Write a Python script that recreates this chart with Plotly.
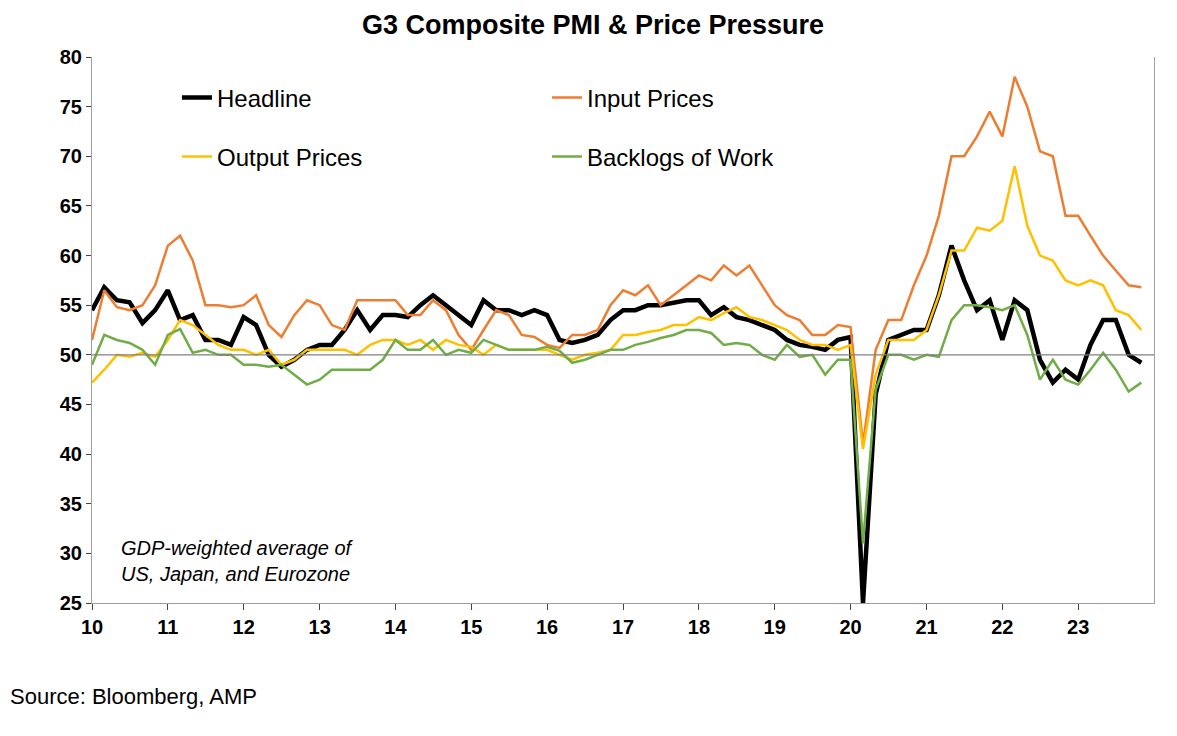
import pandas as pd
import plotly.graph_objects as go

# bimonthly readings, Jan 2010 .. Nov 2023
dates = pd.date_range("2010-01-01", "2023-11-01", freq="2MS")

headline = [54.5, 56.8, 55.5, 55.3, 53.2, 54.5,
            56.5, 53.5, 54, 51.5, 51.5, 51.0,
            53.8, 53, 50, 48.8, 49.5, 50.5,
            51, 51, 52.5, 54.5, 52.5, 54,
            54, 53.8, 55, 56, 55, 54,
            53, 55.5, 54.5, 54.5, 54, 54.5,
            54, 51.5, 51.2, 51.5, 52, 53.5,
            54.5, 54.5, 55, 55, 55.3, 55.5,
            55.5, 54, 54.8, 53.8, 53.5, 53,
            52.5, 51.5, 51, 50.8, 50.5, 51.5,
            51.8, 25, 46, 51.5, 52, 52.5,
            52.5, 56, 61, 57.5, 54.5, 55.5,
            51.5, 55.5, 54.5, 49.5, 47.2, 48.5,
            47.5, 51, 53.5, 53.5, 50, 49.2]

input_prices = [51.5, 56.5, 54.8, 54.5, 55, 57,
                61, 62, 59.5, 55, 55, 54.8,
                55, 56, 53, 51.8, 54, 55.5,
                55, 53, 52.5, 55.5, 55.5, 55.5,
                55.5, 54, 54, 55.5, 54.5, 52,
                50.5, 52.5, 54.5, 54, 52, 51.8,
                51, 50.7, 52, 52, 52.5, 55,
                56.5, 56, 57, 55, 56, 57,
                58, 57.5, 59, 58, 59, 57,
                55, 54, 53.5, 52, 52, 53,
                52.8, 41, 50.5, 53.5, 53.5, 57,
                60, 64, 70, 70, 72, 74.5,
                72, 78, 75, 70.5, 70, 64,
                64, 62, 60, 58.5, 57, 56.8]

output_prices = [47.2, 48.5, 50, 49.8, 50.2, 49.8,
                 51.5, 53.5, 53, 52, 51, 50.5,
                 50.5, 50, 50.5, 49, 49.5, 50.5,
                 50.5, 50.5, 50.5, 50, 51, 51.5,
                 51.5, 51, 51.5, 50.5, 51.5, 51,
                 50.8, 50, 51, 50.5, 50.5, 50.5,
                 50.5, 50, 49.5, 50, 50.2, 50.5,
                 52, 52, 52.3, 52.5, 53, 53,
                 53.8, 53.5, 54.2, 54.8, 53.8, 53.5,
                 53, 52.5, 51.5, 51, 51, 50.5,
                 51, 40.5, 48, 51.5, 51.5, 51.5,
                 52.5, 56, 60.5, 60.5, 62.8, 62.5,
                 63.5, 69, 63, 60, 59.5, 57.5,
                 57, 57.5, 57, 54.5, 54, 52.5]

backlogs = [49, 52, 51.5, 51.2, 50.5, 49,
            52, 52.6, 50.2, 50.5, 50, 50,
            49, 49, 48.8, 49, 48, 47,
            47.5, 48.5, 48.5, 48.5, 48.5, 49.5,
            51.5, 50.5, 50.5, 51.5, 50, 50.5,
            50.2, 51.5, 51, 50.5, 50.5, 50.5,
            50.8, 50.4, 49.2, 49.5, 50, 50.5,
            50.5, 51, 51.3, 51.7, 52, 52.5,
            52.5, 52.2, 51, 51.2, 51, 50,
            49.5, 51, 49.8, 50, 48, 49.5,
            49.5, 31, 46.5, 50, 50, 49.5,
            50, 49.8, 53.5, 55, 55, 54.8,
            54.5, 55, 52, 47.5, 49.5, 47.5,
            47, 48.5, 50.2, 48.5, 46.3, 47.2]

year_ticks = pd.date_range("2010-01-01", "2023-01-01", freq="YS")
year_labels = ["<b>" + d.strftime("%y") + "</b>" for d in year_ticks]
y_ticks = list(range(25, 81, 5))
y_labels = ["<b>%d</b>" % v for v in y_ticks]

fig = go.Figure()
fig.add_trace(go.Scatter(x=dates, y=headline, name="Headline", mode="lines",
                         line=dict(color="black", width=4.5), legend="legend"))
fig.add_trace(go.Scatter(x=dates, y=input_prices, name="Input Prices", mode="lines",
                         line=dict(color="#ED7D31", width=2.5), legend="legend"))
fig.add_trace(go.Scatter(x=dates, y=output_prices, name="Output Prices", mode="lines",
                         line=dict(color="#FFC000", width=2.5), legend="legend2"))
fig.add_trace(go.Scatter(x=dates, y=backlogs, name="Backlogs of Work", mode="lines",
                         line=dict(color="#70AD47", width=2.5), legend="legend2"))

fig.add_hline(y=50, line=dict(color="#808080", width=1.2))

leg = dict(orientation="h", x=0.08, xanchor="left", yanchor="middle",
           entrywidth=325, font=dict(size=24), bgcolor="rgba(0,0,0,0)")

fig.update_layout(
    width=1177, height=736,
    paper_bgcolor="white", plot_bgcolor="white",
    margin=dict(l=84, r=31, t=49, b=141),
    title=dict(text="<b>G3 Composite PMI & Price Pressure</b>", x=0.497, y=0.99,
               xanchor="center", yanchor="top",
               font=dict(family="Arial", size=27, color="black")),
    font=dict(family="Arial", color="black"),
    showlegend=True,
    legend=dict(leg, y=0.925),
    legend2=dict(leg, y=0.817),
    xaxis=dict(range=["2010-01-01", "2024-01-01"], tickvals=year_ticks,
               ticktext=year_labels, ticks="outside", ticklen=6,
               tickfont=dict(size=20), showgrid=False,
               showline=True, linecolor="#a0a0a0", zeroline=False),
    yaxis=dict(range=[25, 80], tickvals=y_ticks, ticktext=y_labels,
               ticks="outside", ticklen=5, tickfont=dict(size=20), showgrid=False,
               showline=True, linecolor="#a0a0a0", mirror=True, zeroline=False),
    annotations=[
        dict(text="<i>GDP-weighted average of<br>US, Japan, and Eurozone</i>",
             xref="paper", yref="paper", x=0.025, y=0.125, xanchor="left",
             yanchor="top", align="left", showarrow=False,
             font=dict(size=20, family="Arial")),
        dict(text="Source: Bloomberg, AMP", xref="paper", yref="paper",
             x=-0.079, y=-0.172, xanchor="left", yanchor="middle",
             showarrow=False, font=dict(size=22, family="Arial")),
    ],
)

fig.write_html("out.html")
